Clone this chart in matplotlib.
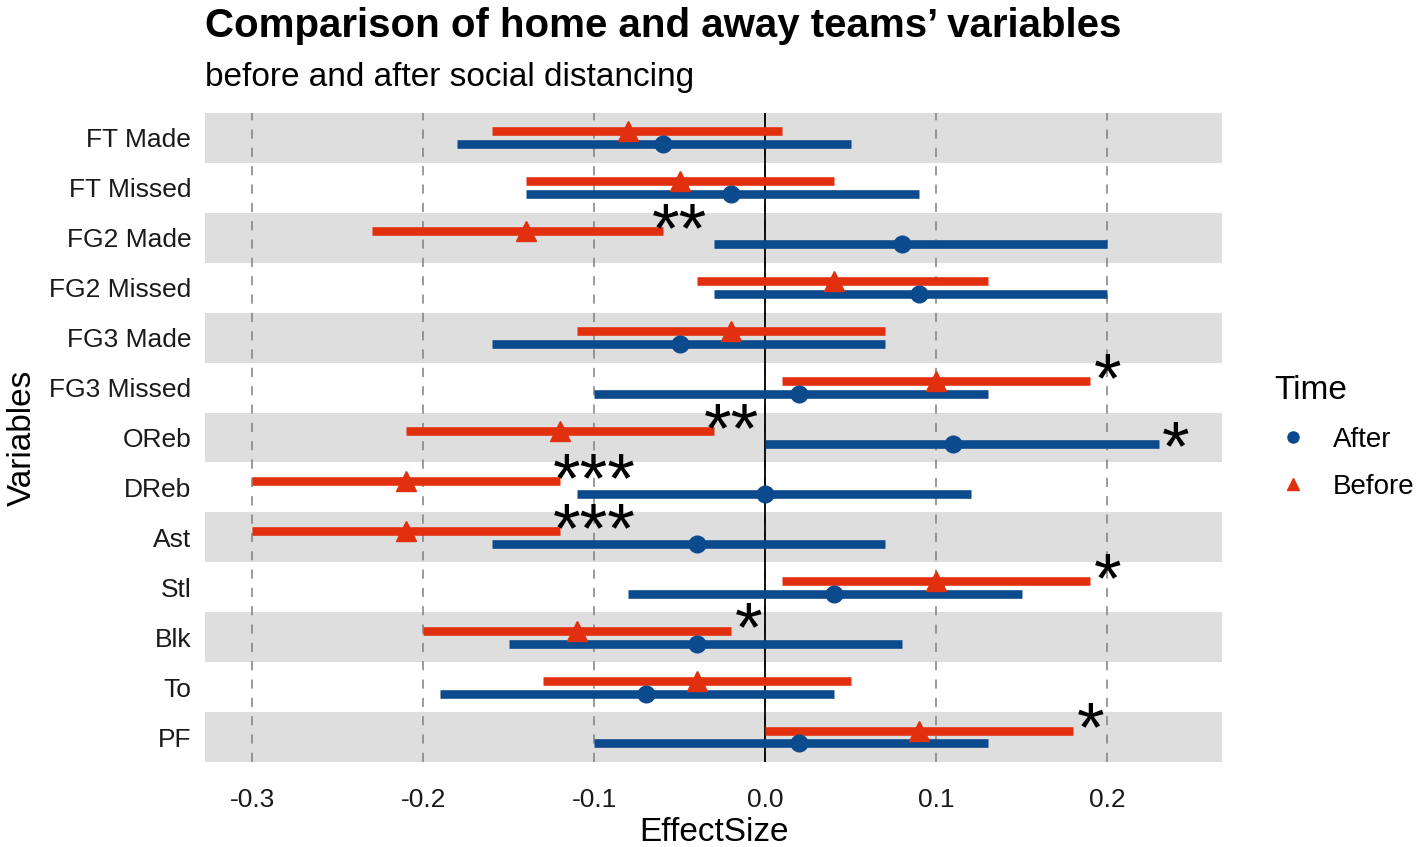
import matplotlib
matplotlib.use("Agg")
import matplotlib.pyplot as plt
from matplotlib.lines import Line2D

plt.rcParams['font.family'] = ['Liberation Sans', 'DejaVu Sans']

variables = ['FT Made', 'FT Missed', 'FG2 Made', 'FG2 Missed', 'FG3 Made', 'FG3 Missed',
             'OReb', 'DReb', 'Ast', 'Stl', 'Blk', 'To', 'PF']

before_est = [-0.08, -0.05, -0.14, 0.04, -0.02, 0.10, -0.12, -0.21, -0.21, 0.10, -0.11, -0.04, 0.09]
before_lo = [-0.16, -0.14, -0.23, -0.04, -0.11, 0.01, -0.21, -0.30, -0.30, 0.01, -0.20, -0.13, 0.00]
before_hi = [0.01, 0.04, -0.06, 0.13, 0.07, 0.19, -0.03, -0.12, -0.12, 0.19, -0.02, 0.05, 0.18]
before_sig = ['', '', '**', '', '', '*', '**', '***', '***', '*', '*', '', '*']

after_est = [-0.06, -0.02, 0.08, 0.09, -0.05, 0.02, 0.11, 0.00, -0.04, 0.04, -0.04, -0.07, 0.02]
after_lo = [-0.18, -0.14, -0.03, -0.03, -0.16, -0.10, 0.00, -0.11, -0.16, -0.08, -0.15, -0.19, -0.10]
after_hi = [0.05, 0.09, 0.20, 0.20, 0.07, 0.13, 0.23, 0.12, 0.07, 0.15, 0.08, 0.04, 0.13]
after_sig = ['', '', '', '', '', '', '*', '', '', '', '', '', '']

xticks = [-0.3, -0.2, -0.1, 0.0, 0.1, 0.2]

red = '#E2300E'
blue = '#0C4A8E'
dy = 0.13

fig = plt.figure(figsize=(14.18, 8.47), dpi=100)
ax = fig.add_axes([0.1446, 0.1004, 0.8618 - 0.1446, 0.8666 - 0.1004])

n = len(variables)
for i in range(n):
    if i % 2 == 0:
        ax.axhspan(i - 0.5, i + 0.5, color='#DEDEDE', lw=0, zorder=0)

for t in xticks:
    ax.axvline(t, color='#808080', lw=1.1, ls=(0, (6, 6)), zorder=1)
ax.axvline(0, color='black', lw=1.3, zorder=1.5)


def stars(x_end, y, label):
    # asterisks sit just past the end of the interval
    off = 0.01 * max(1, len(label) - 1)
    ax.text(x_end + off, y, label, fontsize=51, ha='center', va='center', zorder=4)


for i in range(n):
    yb = i - dy
    ya = i + dy
    ax.plot([before_lo[i], before_hi[i]], [yb, yb], color=red, lw=6.2, solid_capstyle='butt', zorder=2)
    ax.plot(before_est[i], yb, marker='^', color=red, ms=14, zorder=3)
    ax.plot([after_lo[i], after_hi[i]], [ya, ya], color=blue, lw=6.2, solid_capstyle='butt', zorder=2)
    ax.plot(after_est[i], ya, marker='o', color=blue, ms=12, zorder=3)
    if before_sig[i]:
        stars(before_hi[i], yb + 0.06, before_sig[i])
    if after_sig[i]:
        stars(after_hi[i], ya + 0.16, after_sig[i])

ax.set_xlim(-0.3275, 0.267)
ax.set_ylim(n - 0.5, -0.5)
ax.set_yticks(range(n))
ax.set_yticklabels(variables)
ax.set_xticks(xticks)
ax.set_xticklabels(['%.1f' % t for t in xticks])
ax.tick_params(axis='both', length=0, labelsize=19, colors='#1A1A1A')
ax.tick_params(axis='x', pad=19)
ax.tick_params(axis='y', pad=10)
for s in ax.spines.values():
    s.set_visible(False)

ax.set_xlabel('EffectSize', fontsize=24, labelpad=3)
ax.set_ylabel('Variables', fontsize=24, labelpad=8)

fig.text(0.1446, 0.992, 'Comparison of home and away teams\u2019 variables', fontsize=29,
         fontweight='bold', ha='left', va='top')
fig.text(0.1446, 0.927, 'before and after social distancing', fontsize=24, ha='left', va='top')

handles = [Line2D([], [], ls='', marker='o', color=blue, ms=8),
           Line2D([], [], ls='', marker='^', color=red, ms=9)]
leg = fig.legend(handles, ['After', 'Before'], title='Time', loc='center left',
                 bbox_to_anchor=(0.8885, 0.4835), frameon=False, fontsize=20, title_fontsize=24,
                 handlelength=1.37, handletextpad=0.76, labelspacing=0.75, borderpad=0)
leg._legend_box.align = 'left'

fig.savefig('out.png', dpi=100)
